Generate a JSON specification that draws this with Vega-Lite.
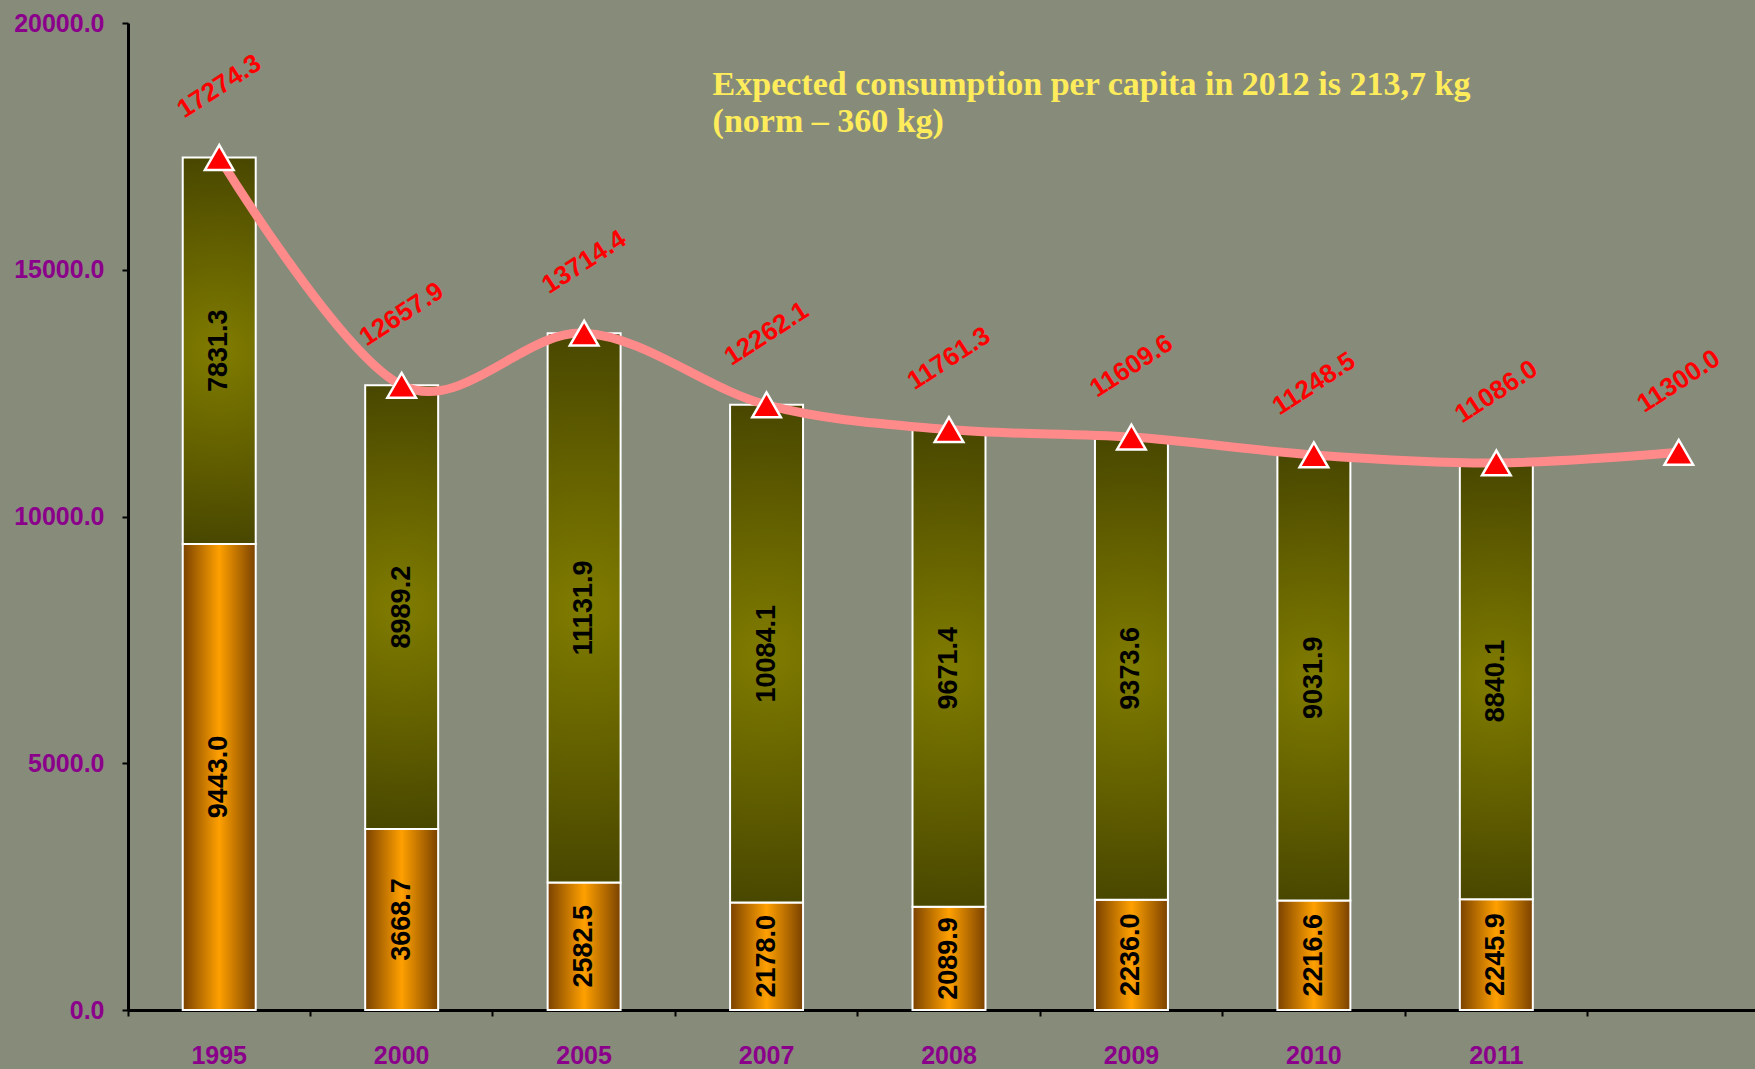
{
  "$schema": "https://vega.github.io/schema/vega-lite/v6.json",
  "width": 1755,
  "height": 1069,
  "autosize": {"type": "fit", "contains": "padding"},
  "padding": {"left": 13, "top": 11, "right": -15, "bottom": 1},
  "background": "#868b7a",
  "config": {"view": {"stroke": null}, "font": "Liberation Sans"},
  "data": {
    "values": [
      {"year": "1995", "lower": 9443.0, "upper": 7831.3, "total": 17274.3},
      {"year": "2000", "lower": 3668.7, "upper": 8989.2, "total": 12657.9},
      {"year": "2005", "lower": 2582.5, "upper": 11131.9, "total": 13714.4},
      {"year": "2007", "lower": 2178.0, "upper": 10084.1, "total": 12262.1},
      {"year": "2008", "lower": 2089.9, "upper": 9671.4, "total": 11761.3},
      {"year": "2009", "lower": 2236.0, "upper": 9373.6, "total": 11609.6},
      {"year": "2010", "lower": 2216.6, "upper": 9031.9, "total": 11248.5},
      {"year": "2011", "lower": 2245.9, "upper": 8840.1, "total": 11086.0},
      {"year": "2012", "lower": null, "upper": null, "total": 11300.0}
    ]
  },
  "resolve": {"axis": {"x": "independent"}},
  "layer": [
    {
      "mark": {
        "type": "bar",
        "width": {"band": 0.4},
        "fill": {
          "gradient": "linear",
          "x1": 0, "y1": 0, "x2": 1, "y2": 0,
          "stops": [
            {"offset": 0, "color": "#7a4200"},
            {"offset": 0.5, "color": "#ffa000"},
            {"offset": 1, "color": "#7a4200"}
          ]
        },
        "stroke": "white",
        "strokeWidth": 2
      },
      "encoding": {
        "x": {
          "field": "year", "type": "nominal", "title": null,
          "scale": {"domain": ["1995","2000","2005","2007","2008","2009","2010","2011","2012"], "paddingInner": 0, "paddingOuter": 0},
          "axis": {
            "orient": "bottom",
            "ticks": false,
            "tickSize": 0,
            "domain": true,
            "domainColor": "black",
            "domainWidth": 3,
            "labelAngle": 0,
            "labelFontSize": 25,
            "labelFontWeight": "bold",
            "labelColor": "#8b008b",
            "labelPadding": 33,
            "labelExpr": "datum.value == '2012' ? '' : datum.value"
          }
        },
        "y": {
          "field": "lower", "type": "quantitative", "title": null,
          "scale": {"domain": [0, 20000], "nice": false, "zero": true},
          "axis": {
            "orient": "left",
            "values": [0, 5000, 10000, 15000, 20000],
            "format": ".1f",
            "grid": false,
            "labelFontSize": 25,
            "labelFontWeight": "bold",
            "labelColor": "#8b008b",
            "labelPadding": 18,
            "tickSize": 6,
            "tickWidth": 2,
            "tickColor": "black",
            "domainColor": "black",
            "domainWidth": 3
          }
        }
      }
    },
    {
      "mark": {
        "type": "bar",
        "width": {"band": 0.4},
        "fill": {
          "gradient": "radial",
          "x1": 0.5, "y1": 0.5, "r1": 0,
          "x2": 0.5, "y2": 0.5, "r2": 0.6,
          "stops": [
            {"offset": 0, "color": "#807c00"},
            {"offset": 1, "color": "#3e3d00"}
          ]
        },
        "stroke": "white",
        "strokeWidth": 2
      },
      "encoding": {
        "x": {"field": "year", "type": "nominal", "axis": null},
        "y": {"field": "lower", "type": "quantitative"},
        "y2": {"field": "total"}
      }
    },
    {
      "mark": {
        "type": "text",
        "angle": 270,
        "align": "center",
        "baseline": "middle",
        "fontSize": 27,
        "fontWeight": "bold",
        "fill": "black",
        "yOffset": {"expr": "(scale('y', 0) - scale('y', datum.lower)) / 2"}
      },
      "encoding": {
        "x": {"field": "year", "type": "nominal", "axis": null},
        "y": {"field": "lower", "type": "quantitative"},
        "text": {"field": "lower", "type": "quantitative", "format": ".1f"}
      }
    },
    {
      "mark": {
        "type": "text",
        "angle": 270,
        "align": "center",
        "baseline": "middle",
        "fontSize": 27,
        "fontWeight": "bold",
        "fill": "black",
        "yOffset": {"expr": "(scale('y', datum.total) - scale('y', datum.lower)) / 2"}
      },
      "encoding": {
        "x": {"field": "year", "type": "nominal", "axis": null},
        "y": {"field": "lower", "type": "quantitative"},
        "text": {"field": "upper", "type": "quantitative", "format": ".1f"}
      }
    },
    {
      "mark": {
        "type": "line",
        "interpolate": "cardinal",
        "stroke": "#ff8a8a",
        "strokeWidth": 9
      },
      "encoding": {
        "x": {
          "field": "year", "type": "nominal", "title": null,
          "axis": {
            "orient": "bottom",
            "labels": false,
            "domain": false,
            "ticks": true,
            "tickSize": 6,
            "tickWidth": 2,
            "tickColor": "black",
            "bandPosition": 0
          }
        },
        "y": {"field": "total", "type": "quantitative"}
      }
    },
    {
      "mark": {
        "type": "point",
        "shape": "triangle-up",
        "filled": true,
        "fill": "#ff0000",
        "stroke": "white",
        "strokeWidth": 2.5,
        "size": 820,
        "opacity": 1
      },
      "encoding": {
        "x": {"field": "year", "type": "nominal", "axis": null},
        "y": {"field": "total", "type": "quantitative"}
      }
    },
    {
      "mark": {
        "type": "text",
        "angle": 327,
        "align": "center",
        "baseline": "middle",
        "fontSize": 26,
        "fontWeight": "bold",
        "fill": "#ff0000",
        "yOffset": -71
      },
      "encoding": {
        "x": {"field": "year", "type": "nominal", "axis": null},
        "y": {"field": "total", "type": "quantitative"},
        "text": {"field": "total", "type": "quantitative", "format": ".1f"}
      }
    },
    {
      "data": {"values": [{"note": "caption"}]},
      "mark": {
        "type": "text",
        "align": "left",
        "baseline": "alphabetic",
        "font": "Liberation Serif",
        "fontSize": 34,
        "fontWeight": "bold",
        "lineHeight": 37,
        "fill": "#ffec5a",
        "xOffset": -54
      },
      "encoding": {
        "x": {"datum": "2007", "type": "nominal", "axis": null},
        "y": {"datum": 18540, "type": "quantitative"},
        "text": {"value": ["Expected consumption per capita in 2012 is 213,7 kg", "(norm – 360 kg)"]}
      }
    }
  ]
}
